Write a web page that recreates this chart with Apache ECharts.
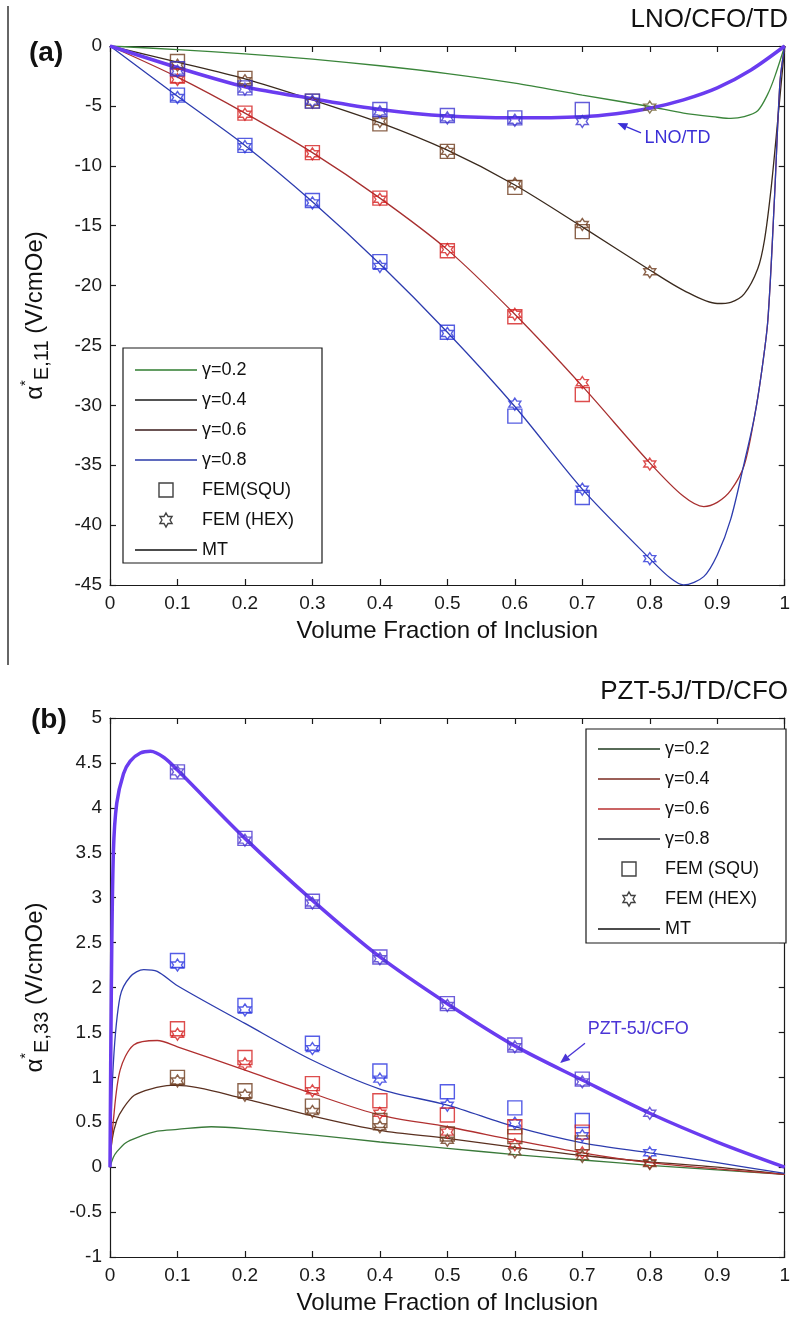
<!DOCTYPE html>
<html>
<head>
<meta charset="utf-8">
<script src="https://cdn.jsdelivr.net/npm/echarts@6/dist/echarts.min.js"></script>
<style>
  html, body { margin: 0; padding: 0; background: #fff; }
  #chart { width: 793px; height: 1318px; }
</style>
</head>
<body>
<div id="chart"></div>
<script>
// ---- panel (a) LNO/CFO/TD, MT curves ----
const xA_g02 = [0, 0.1, 0.2, 0.3, 0.4, 0.5, 0.6, 0.7, 0.8, 0.85, 0.9, 0.92, 0.94, 0.96, 0.975, 0.985, 1]
const yA_g02 = [0, -0.3, -0.65, -1.1, -1.65, -2.3, -3.1, -4.1, -5.05, -5.6, -5.95, -6.05, -5.9, -5.4, -4.0, -2.6, 0]
const xA_g04 = [0, 0.1, 0.2, 0.3, 0.4, 0.5, 0.6, 0.7, 0.8, 0.85, 0.9, 0.92, 0.94, 0.96, 0.97, 0.98, 0.99, 1]
const yA_g04 = [0, -1.35, -2.75, -4.5, -6.4, -8.7, -11.6, -15.1, -18.7, -20.4, -21.5, -21.4, -20.7, -18.6, -16.2, -11.8, -6, 0]
const xA_g06 = [0, 0.1, 0.2, 0.3, 0.4, 0.5, 0.6, 0.7, 0.8, 0.85, 0.88, 0.9, 0.92, 0.94, 0.955, 0.965, 0.975, 0.985, 0.993, 1]
const yA_g06 = [0, -2.6, -5.6, -8.9, -12.7, -17.0, -22.4, -28.4, -34.8, -37.6, -38.45, -38.1, -37.1, -35, -31, -27.5, -22.9, -12.5, -3, 0]
const xA_g08 = [0, 0.1, 0.2, 0.3, 0.4, 0.5, 0.6, 0.7, 0.8, 0.83, 0.85, 0.88, 0.9, 0.92, 0.94, 0.955, 0.965, 0.975, 0.985, 0.993, 1]
const yA_g08 = [0, -4.2, -8.3, -13.0, -18.2, -23.9, -30.1, -37.0, -42.8, -44.4, -45, -44.3, -42.5, -39.5, -34.8, -31, -27.5, -22.9, -12.5, -3, 0]
const xA_lno = [0, 0.1, 0.2, 0.3, 0.4, 0.5, 0.6, 0.7, 0.75, 0.8, 0.85, 0.9, 0.95, 1]
const yA_lno = [0, -1.8, -3.4, -4.4, -5.3, -5.85, -6.0, -5.9, -5.65, -5.2, -4.5, -3.5, -2.0, 0]

// FEM points (a), x = 0.1 ... 0.8
const xFem = [0.1, 0.2, 0.3, 0.4, 0.5, 0.6, 0.7, 0.8]
const sqA_g04 = [-1.3, -2.7, -4.6, -6.5, -8.8, -11.8, -15.5, null]
const stA_g04 = [-1.6, -2.9, -4.7, -6.3, -8.8, -11.5, -14.9, -18.85]
const sqA_g06 = [-2.5, -5.6, -8.9, -12.7, -17.1, -22.6, -29.1, null]
const stA_g06 = [-2.8, -5.7, -9.0, -12.8, -17.0, -22.4, -28.1, -34.9]
const sqA_g08 = [-4.1, -8.3, -12.9, -18.0, -23.9, -30.9, -37.7, null]
const stA_g08 = [-4.3, -8.4, -13.1, -18.4, -24.0, -29.9, -37.0, -42.8]
const sqA_lno = [-1.9, -3.5, -4.6, -5.3, -5.8, -6.0, -5.3, null]
const stA_lno = [-2.1, -3.6, -4.6, -5.5, -6.0, -6.2, -6.3, null]
const stA_g02 = [null, null, null, null, null, null, null, -5.1]

// ---- panel (b) PZT-5J/TD/CFO, MT curves ----
const xB_g02 = [0, 0.005, 0.01, 0.023, 0.04, 0.07, 0.1, 0.15, 0.2, 0.3, 0.4, 0.5, 0.6, 0.7, 0.8, 0.9, 1]
const yB_g02 = [0, 0.11, 0.17, 0.27, 0.33, 0.4, 0.42, 0.45, 0.43, 0.36, 0.28, 0.21, 0.14, 0.08, 0.02, -0.03, -0.08]
const xB_g04 = [0, 0.003, 0.01, 0.02, 0.036, 0.06, 0.09, 0.1, 0.2, 0.3, 0.4, 0.5, 0.6, 0.7, 0.8, 0.9, 1]
const yB_g04 = [0, 0.3, 0.52, 0.66, 0.8, 0.87, 0.91, 0.91, 0.76, 0.57, 0.41, 0.32, 0.22, 0.13, 0.06, 0.0, -0.08]
const xB_g06 = [0, 0.005, 0.015, 0.035, 0.07, 0.1, 0.2, 0.3, 0.4, 0.5, 0.6, 0.7, 0.8, 0.9, 1]
const yB_g06 = [0, 0.52, 1.08, 1.36, 1.41, 1.34, 1.08, 0.82, 0.58, 0.45, 0.3, 0.16, 0.05, -0.02, -0.08]
const xB_g08 = [0, 0.005, 0.015, 0.03, 0.05, 0.07, 0.1, 0.2, 0.3, 0.4, 0.5, 0.6, 0.7, 0.8, 0.9, 1]
const yB_g08 = [0, 1.16, 1.9, 2.12, 2.2, 2.18, 2.02, 1.6, 1.19, 0.87, 0.69, 0.45, 0.27, 0.16, 0.05, -0.07]
const xB_pzt = [0, 0.002, 0.005, 0.01, 0.02, 0.03, 0.045, 0.06, 0.08, 0.1, 0.2, 0.3, 0.4, 0.5, 0.6, 0.7, 0.8, 0.9, 1]
const yB_pzt = [0, 2.0, 3.5, 4.05, 4.38, 4.52, 4.61, 4.63, 4.56, 4.42, 3.66, 2.97, 2.34, 1.82, 1.35, 0.97, 0.6, 0.28, 0.0]

// FEM points (b)
const sqB_g08 = [2.3, 1.8, 1.38, 1.07, 0.84, 0.66, 0.52, null]
const stB_g08 = [2.25, 1.75, 1.32, 0.98, 0.69, 0.49, 0.35, 0.16]
const sqB_g06 = [1.54, 1.22, 0.93, 0.74, 0.58, 0.45, 0.39, null]
const stB_g06 = [1.48, 1.15, 0.85, 0.6, 0.39, 0.25, 0.16, 0.05]
const sqB_g04 = [1.0, 0.85, 0.68, 0.52, 0.37, 0.34, 0.27, null]
const stB_g04 = [0.96, 0.8, 0.62, 0.45, 0.3, 0.17, 0.12, 0.04]
const sqB_pzt = [4.4, 3.66, 2.96, 2.34, 1.82, 1.36, 0.98, null]
const stB_pzt = [4.4, 3.64, 2.94, 2.32, 1.8, 1.34, 0.95, 0.6]

const FONT = '"Liberation Sans", Arial, Helvetica, sans-serif'
const HEX = 'path://M100 0 L128.87 50 L186.6 50 L157.7 100 L186.6 150 L128.87 150 L100 200 L71.13 150 L13.4 150 L42.3 100 L13.4 50 L71.13 50 Z'
const SQ = 'path://M0 0H100V100H0Z'
const DASH = 'path://M0 0H620V14H0Z'

function curve (name, xs, ys, ax, color, width, z) {
  return {
    name: name,
    type: 'line',
    xAxisIndex: ax,
    yAxisIndex: ax,
    data: xs.map((x, i) => [x, ys[i]]),
    symbol: 'none',
    showSymbol: false,
    smooth: 0.3,
    lineStyle: { color: color, width: width },
    itemStyle: { color: color },
    z: z || 2,
    silent: true
  }
}

function fem (name, vals, ax, color, symbol, size) {
  return {
    name: name,
    type: 'scatter',
    xAxisIndex: ax,
    yAxisIndex: ax,
    data: xFem.map((x, i) => [x, vals[i]]).filter(p => p[1] !== null),
    symbol: symbol,
    symbolSize: size,
    itemStyle: { color: 'transparent', borderColor: color, borderWidth: 1.4 },
    z: 5,
    silent: true
  }
}

function xAxes (grid) {
  const base = {
    gridIndex: grid,
    type: 'value',
    min: 0,
    max: 1,
    interval: 0.1,
    splitLine: { show: false },
    axisLine: { onZero: false, lineStyle: { color: '#1a1a1a', width: 1.2 } },
    axisTick: { inside: true, length: 6, lineStyle: { color: '#1a1a1a', width: 1.2 } }
  }
  return [
    Object.assign({}, base, {
      position: 'bottom',
      axisLabel: { fontSize: 19, fontFamily: FONT, color: '#1a1a1a', margin: 9 },
      name: 'Volume Fraction of Inclusion',
      nameLocation: 'middle',
      nameGap: 34,
      nameTextStyle: { fontSize: 24, fontFamily: FONT, color: '#111' }
    }),
    Object.assign({}, base, { position: 'top', axisLabel: { show: false } })
  ]
}

function yAxes (grid, min, max, interval, sub) {
  const base = {
    gridIndex: grid,
    type: 'value',
    min: min,
    max: max,
    interval: interval,
    splitLine: { show: false },
    axisLine: { onZero: false, lineStyle: { color: '#1a1a1a', width: 1.2 } },
    axisTick: { inside: true, length: 6, lineStyle: { color: '#1a1a1a', width: 1.2 } }
  }
  return [
    Object.assign({}, base, {
      position: 'left',
      axisLabel: { fontSize: 19, fontFamily: FONT, color: '#1a1a1a', margin: 8 },
      name: '{a|α}{s|*}{b|' + sub + '}{c| (V/cmOe)}',
      nameLocation: 'middle',
      nameRotate: 90,
      nameGap: 58,
      nameTextStyle: {
        fontFamily: FONT,
        color: '#111',
        rich: {
          a: { fontSize: 24, fontFamily: FONT, color: '#111', lineHeight: 34, verticalAlign: 'middle' },
          s: { fontSize: 15, fontFamily: FONT, color: '#111', lineHeight: 34, verticalAlign: 'top' },
          b: { fontSize: 20, fontFamily: FONT, color: '#111', lineHeight: 34, verticalAlign: 'bottom' },
          c: { fontSize: 24, fontFamily: FONT, color: '#111', lineHeight: 34, verticalAlign: 'middle' }
        }
      }
    }),
    Object.assign({}, base, { position: 'right', axisLabel: { show: false } })
  ]
}

function legendBox (left, top, items) {
  return {
    orient: 'vertical',
    left: left,
    top: top,
    padding: 0,
    itemWidth: 62,
    itemHeight: 14,
    itemGap: 10,
    selectedMode: false,
    textStyle: { fontSize: 18, lineHeight: 20, fontFamily: FONT, color: '#111' },
    z: 6,
    data: items
  }
}

function lineItem (name, color) {
  return { name: name, icon: DASH, itemStyle: { color: color, borderWidth: 0 } }
}

const openSq = { color: 'transparent', borderColor: '#111', borderWidth: 1.4 }

const option = {
  animation: false,
  backgroundColor: '#fff',
  grid: [
    { left: 110, top: 46, width: 682, height: 539 },
    { left: 110, top: 718, width: 682, height: 539 }
  ],
  xAxis: xAxes(0).concat(xAxes(1)),
  yAxis: yAxes(0, -45, 0, 5, 'E,11').concat(yAxes(1, -1, 5, 0.5, 'E,33')),
  legend: [
    legendBox(135, 360, [
      lineItem('γ=0.2', '#2f7d2f'),
      lineItem('γ=0.4', '#1a1a1a'),
      lineItem('γ=0.6', '#3a1a1a'),
      lineItem('γ=0.8', '#2a3aa8'),
      { name: 'FEM(SQU)', icon: SQ, itemStyle: openSq },
      { name: 'FEM (HEX)', icon: HEX, itemStyle: openSq },
      lineItem('MT', '#111')
    ]),
    legendBox(598, 739, [
      lineItem('γ=0.2', '#1f3a1f'),
      lineItem('γ=0.4', '#7a2a20'),
      lineItem('γ=0.6', '#b83030'),
      lineItem('γ=0.8', '#2a2a30'),
      { name: 'FEM (SQU)', icon: SQ, itemStyle: openSq },
      { name: 'FEM (HEX)', icon: HEX, itemStyle: openSq },
      lineItem('MT', '#111')
    ])
  ],
  graphic: [
    { type: 'line', shape: { x1: 8, y1: 6, x2: 8, y2: 665 }, style: { stroke: '#333', lineWidth: 1.5 } },
    { type: 'rect', z: 3, shape: { x: 123, y: 348, width: 199, height: 215 }, style: { fill: '#fff', stroke: '#1a1a1a', lineWidth: 1.2 } },
    { type: 'rect', z: 3, shape: { x: 586, y: 729, width: 200, height: 214 }, style: { fill: '#fff', stroke: '#1a1a1a', lineWidth: 1.2 } },
    { type: 'text', x: 788, y: 20, style: { text: 'LNO/CFO/TD', font: '26px ' + FONT, fill: '#111', textAlign: 'right', textVerticalAlign: 'middle' } },
    { type: 'text', x: 788, y: 692, style: { text: 'PZT-5J/TD/CFO', font: '26px ' + FONT, fill: '#111', textAlign: 'right', textVerticalAlign: 'middle' } },
    { type: 'text', x: 29, y: 53, style: { text: '(a)', font: 'bold 28px ' + FONT, fill: '#111', textAlign: 'left', textVerticalAlign: 'middle' } },
    { type: 'text', x: 31, y: 720, style: { text: '(b)', font: 'bold 28px ' + FONT, fill: '#111', textAlign: 'left', textVerticalAlign: 'middle' } }
  ],
  series: [
    // (a)
    curve('γ=0.2', xA_g02, yA_g02, 0, '#3a853a', 1.3),
    curve('γ=0.4', xA_g04, yA_g04, 0, '#3a2a1e', 1.3),
    curve('γ=0.6', xA_g06, yA_g06, 0, '#a83030', 1.3),
    curve('γ=0.8', xA_g08, yA_g08, 0, '#2d3cae', 1.3),
    curve('LNO/TD', xA_lno, yA_lno, 0, '#6a3cf0', 3.5, 3),
    fem('FEM(SQU)', sqA_g04, 0, '#6e3c1e', 'rect', 14),
    fem('FEM (HEX)', stA_g04, 0, '#6e3c1e', HEX, 12),
    fem('FEM(SQU)', sqA_g06, 0, '#d42020', 'rect', 14),
    fem('FEM (HEX)', stA_g06, 0, '#d42020', HEX, 12),
    fem('FEM(SQU)', sqA_g08, 0, '#2a34d8', 'rect', 14),
    fem('FEM (HEX)', stA_g08, 0, '#2a34d8', HEX, 12),
    fem('FEM(SQU)', sqA_lno, 0, '#3c34d0', 'rect', 14),
    fem('FEM (HEX)', stA_lno, 0, '#3c34d0', HEX, 12),
    fem('FEM (HEX)', stA_g02, 0, '#6a5a2a', HEX, 12),
    // (b)
    curve('γ=0.2', xB_g02, yB_g02, 2, '#3a7a3a', 1.3),
    curve('γ=0.4', xB_g04, yB_g04, 2, '#5a3020', 1.3),
    curve('γ=0.6', xB_g06, yB_g06, 2, '#b03030', 1.3),
    curve('γ=0.8', xB_g08, yB_g08, 2, '#2d3cae', 1.3),
    curve('PZT-5J/CFO', xB_pzt, yB_pzt, 2, '#6a3cf0', 3.5, 3),
    fem('FEM (SQU)', sqB_g08, 2, '#2a34e0', 'rect', 14),
    fem('FEM (HEX)', stB_g08, 2, '#2a34e0', HEX, 12),
    fem('FEM (SQU)', sqB_g06, 2, '#d42020', 'rect', 14),
    fem('FEM (HEX)', stB_g06, 2, '#d42020', HEX, 12),
    fem('FEM (SQU)', sqB_g04, 2, '#6e3c1e', 'rect', 14),
    fem('FEM (HEX)', stB_g04, 2, '#6e3c1e', HEX, 12),
    fem('FEM (SQU)', sqB_pzt, 2, '#4a36d0', 'rect', 14),
    fem('FEM (HEX)', stB_pzt, 2, '#4a36d0', HEX, 12),
    // legend-only entry
    { name: 'MT', type: 'line', xAxisIndex: 0, yAxisIndex: 0, data: [], symbol: 'none', lineStyle: { color: '#111' } }
  ]
}

const chart = echarts.init(document.getElementById('chart'))
chart.setOption(option)

// arrows + labels, anchored in data coordinates
const notes = [
  { grid: 0, text: 'LNO/TD', tail: [0.787, -7.26], head: [0.752, -6.43], label: [0.792, -7.7], color: '#3b2fd6' },
  { grid: 1, text: 'PZT-5J/CFO', tail: [0.704, 1.38], head: [0.667, 1.16], label: [0.708, 1.54], color: '#4b35d6' }
]
const extra = []
notes.forEach(n => {
  const t = chart.convertToPixel({ gridIndex: n.grid }, n.tail)
  const h = chart.convertToPixel({ gridIndex: n.grid }, n.head)
  const l = chart.convertToPixel({ gridIndex: n.grid }, n.label)
  const dx = h[0] - t[0]
  const dy = h[1] - t[1]
  const len = Math.sqrt(dx * dx + dy * dy)
  const ux = dx / len
  const uy = dy / len
  const bx = h[0] - ux * 10
  const by = h[1] - uy * 10
  extra.push({ type: 'line', z: 6, shape: { x1: t[0], y1: t[1], x2: bx, y2: by }, style: { stroke: n.color, lineWidth: 1.3 } })
  extra.push({
    type: 'polygon',
    z: 6,
    shape: { points: [[h[0], h[1]], [bx - uy * 4, by + ux * 4], [bx + uy * 4, by - ux * 4]] },
    style: { fill: n.color }
  })
  extra.push({ type: 'text', z: 6, x: l[0], y: l[1], style: { text: n.text, font: '18px ' + FONT, fill: n.color, textAlign: 'left', textVerticalAlign: 'middle' } })
})
chart.setOption({ graphic: option.graphic.concat(extra) })
</script>
</body>
</html>
